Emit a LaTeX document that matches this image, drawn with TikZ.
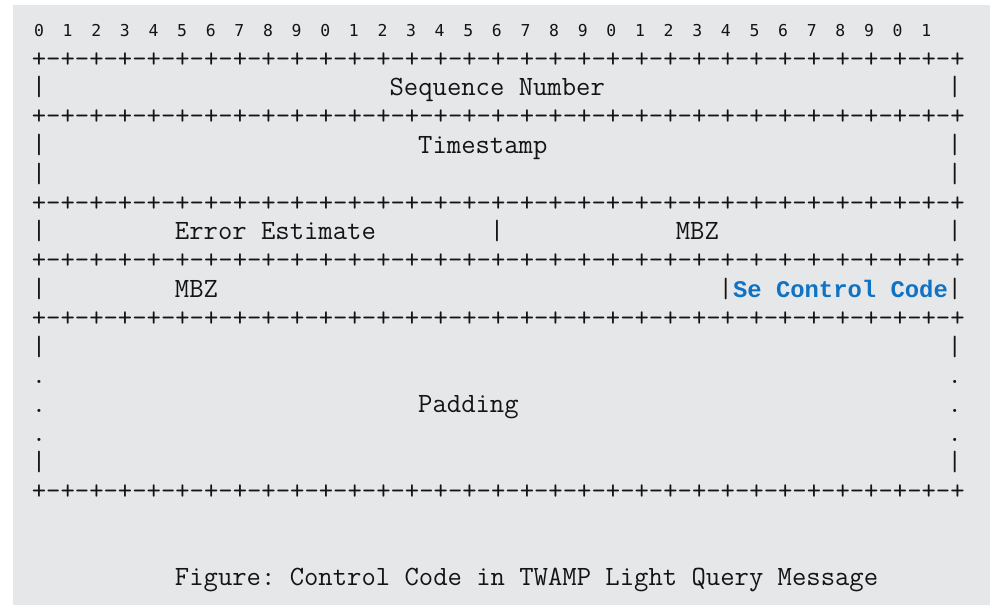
\documentclass[tikz,border=0pt]{standalone}
\usepackage{fontspec}
\newfontfamily\mono{Latin Modern Mono}
\newfontfamily\boldmono{Liberation Mono}
\newfontfamily\digitfont{DejaVu Sans Mono}
\definecolor{bg}{RGB}{230,231,233}
\definecolor{codeblue}{RGB}{16,114,196}
\definecolor{txt}{RGB}{20,20,20}
\def\eightpairs{-+-+-+-+-+-+-+-+}
\def\gridrule{+\eightpairs\eightpairs\eightpairs\eightpairs}
\newcommand\place[5]{\node[#4] (#1) at ({31.85+14.31*(#2)},{38.4+28.8*(#3)}) {#5};}
\begin{document}
\begin{tikzpicture}[x=0.75pt,y=-0.75pt,
  ch/.style={anchor=base west,inner sep=0pt,outer sep=0pt,text=txt,
    font=\mono\fontsize{20.9}{22}\selectfont\frenchspacing},
  num/.style={anchor=base,inner sep=0pt,outer sep=0pt,text=txt,
    font=\digitfont\fontsize{12.3}{14}\selectfont},
  bluetext/.style={ch,text=codeblue,font=\boldmono\fontsize{17.9}{20}\selectfont\bfseries}]
\useasboundingbox (0,0) rectangle (990,605);
\fill[bg] (13,5) rectangle (990,605);
% bit numbers
\foreach \k in {0,...,31} {
  \pgfmathtruncatemacro\dd{mod(\k,10)}
  \node[num] (d\k) at ({39.0+28.62*\k},36.7) {\dd};
}
% rows
\place{rule1}{0}{1}{ch}{\gridrule}
\place{l2}{0}{2}{ch}{|}
\place{seq}{25}{2}{ch}{Sequence Number}
\place{r2}{64}{2}{ch}{|}
\place{rule3}{0}{3}{ch}{\gridrule}
\place{l4}{0}{4}{ch}{|}
\place{ts}{27}{4}{ch}{Timestamp}
\place{r4}{64}{4}{ch}{|}
\place{l5}{0}{5}{ch}{|}
\place{r5}{64}{5}{ch}{|}
\place{rule6}{0}{6}{ch}{\gridrule}
\place{l7}{0}{7}{ch}{|}
\place{err}{10}{7}{ch}{Error Estimate}
\place{m7}{32}{7}{ch}{|}
\place{mbz1}{45}{7}{ch}{MBZ}
\place{r7}{64}{7}{ch}{|}
\place{rule8}{0}{8}{ch}{\gridrule}
\place{l9}{0}{9}{ch}{|}
\place{mbz2}{10}{9}{ch}{MBZ}
\place{m9}{48}{9}{ch}{|}
\place{scc}{49}{9}{bluetext}{Se Control Code}
\place{r9}{64}{9}{ch}{|}
\place{rule10}{0}{10}{ch}{\gridrule}
\place{l11}{0}{11}{ch}{|}
\place{r11}{64}{11}{ch}{|}
\place{l12}{0}{12}{ch}{.}
\place{r12}{64}{12}{ch}{.}
\place{l13}{0}{13}{ch}{.}
\place{pad}{27}{13}{ch}{Padding}
\place{r13}{64}{13}{ch}{.}
\place{l14}{0}{14}{ch}{.}
\place{r14}{64}{14}{ch}{.}
\place{l15}{0}{15}{ch}{|}
\place{r15}{64}{15}{ch}{|}
\place{rule16}{0}{16}{ch}{\gridrule}
\place{cap}{10}{19}{ch}{Figure: Control Code in TWAMP Light Query Message}
\end{tikzpicture}
\end{document}
